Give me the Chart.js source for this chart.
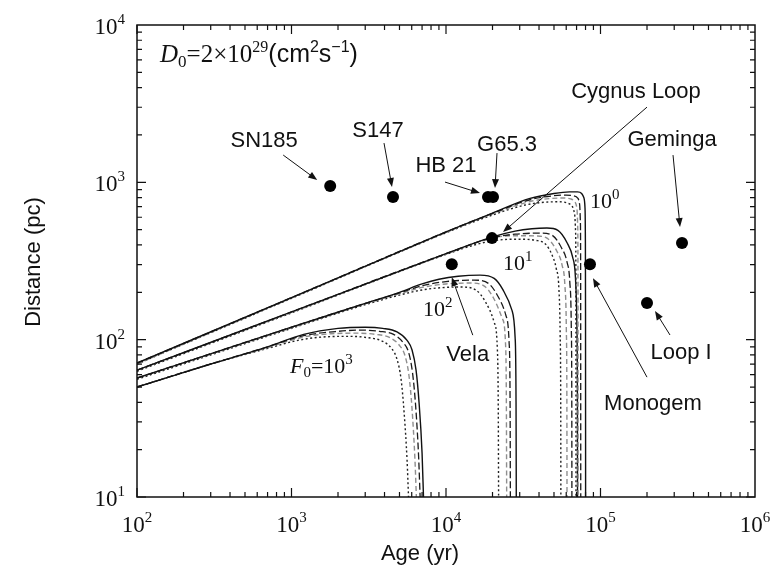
<!DOCTYPE html>
<html>
<head>
<meta charset="utf-8">
<script src="https://cdn.jsdelivr.net/npm/chart.js@4.4.1/dist/chart.umd.min.js"></script>
<style>
  html, body { margin: 0; padding: 0; background: #fff; }
  #wrap { width: 776px; height: 577px; position: relative; }
</style>
</head>
<body>
<div id="wrap"><canvas id="chart"></canvas></div>
<script>
// remnants (age in yr, distance in pc)
const snrNames = ["SN185", "S147", "HB 21", "G65.3", "Cygnus Loop", "Vela", "Monogem", "Geminga", "Loop I"];
const snrAge = [1780, 4540, 18700, 20150, 19850, 10900, 85500, 337000, 200000];
const snrDist = [947, 806, 806, 806, 442, 302, 302, 411, 171];

// F0 = 1
const f1SolidAge = [100, 1000, 10000, 20000, 35000, 50000, 63000, 71000, 75500, 78000, 79300, 79800, 80000, 80100];
const f1SolidDist = [71, 185, 484, 638, 790, 850, 870, 870, 850, 800, 700, 450, 150, 10];
const f1DashAge = [100, 1000, 10000, 20000, 35000, 50000, 60000, 67000, 71500, 73300, 74100, 74400, 74500];
const f1DashDist = [71, 185, 484, 635, 775, 822, 830, 822, 790, 720, 560, 250, 10];
const f1GrayAge = [100, 1000, 10000, 20000, 35000, 48000, 57000, 64000, 68500, 70400, 71200, 71500, 71600];
const f1GrayDist = [70, 184, 480, 630, 755, 790, 795, 785, 750, 680, 520, 230, 10];
const f1DotAge = [100, 1000, 10000, 20000, 32000, 44000, 54000, 61000, 65800, 68000, 69000, 69300, 69400];
const f1DotDist = [70, 183, 478, 620, 715, 748, 752, 738, 700, 630, 480, 210, 10];

// F0 = 10
const f10SolidAge = [100, 1000, 10000, 20000, 28000, 36000, 45000, 53000, 61000, 66000, 68800, 70300, 70900, 71000];
const f10SolidDist = [64, 150, 352, 450, 490, 507, 512, 495, 410, 335, 250, 130, 40, 10];
const f10DashAge = [100, 1000, 10000, 20000, 28000, 41400, 48800, 56100, 60700, 63300, 64700, 65200, 65300];
const f10DashDist = [64, 150, 352, 445, 468, 476, 460, 381, 312, 232, 121, 37, 10];
const f10GrayAge = [100, 1000, 10000, 20000, 28000, 38500, 45300, 52200, 56400, 58800, 60100, 60600, 60700];
const f10GrayDist = [64, 149, 350, 443, 458, 456, 440, 365, 298, 222, 116, 36, 10];
const f10DotAge = [100, 1000, 10000, 16000, 22000, 30000, 38000, 44000, 48600, 51800, 53800, 54800, 55300, 55400];
const f10DotDist = [63, 148, 348, 405, 430, 435, 428, 405, 345, 281, 210, 109, 34, 10];

// F0 = 100
const f100SolidAge = [100, 1000, 3000, 5000, 7000, 9000, 12000, 16600, 20500, 23400, 26700, 28000, 28400, 28500];
const f100SolidDist = [57, 120, 170, 200, 226, 242, 253, 257, 245, 207, 154, 104, 40, 10];
const f100DashAge = [100, 1000, 3000, 5000, 7000, 10000, 15200, 18800, 21400, 24400, 25600, 26000, 26100];
const f100DashDist = [57, 120, 170, 198, 220, 234, 239, 228, 193, 143, 97, 37, 10];
const f100GrayAge = [100, 1000, 3000, 5000, 7000, 10000, 14400, 17800, 20300, 23100, 24300, 24600, 24700];
const f100GrayDist = [57, 119, 169, 196, 215, 226, 229, 218, 184, 137, 93, 36, 10];
const f100DotAge = [100, 1000, 3000, 5000, 7000, 10000, 12700, 15700, 18000, 20500, 21500, 21800, 21900];
const f100DotDist = [56, 118, 167, 192, 207, 215, 216, 206, 174, 129, 87, 34, 10];

// F0 = 1000
const f1000SolidAge = [100, 300, 700, 1200, 2000, 3000, 3900, 4820, 5600, 6030, 6400, 6690, 7000, 7150];
const f1000SolidDist = [50, 70, 90, 108, 118, 120, 118, 112, 99, 86, 64, 40, 19, 10];
const f1000DashAge = [100, 300, 700, 1200, 2000, 2850, 3700, 4580, 5320, 5730, 6080, 6360, 6650, 6800];
const f1000DashDist = [50, 70, 90, 106, 113, 115, 113, 108, 95, 83, 61, 38, 18, 10];
const f1000GrayAge = [100, 300, 700, 1200, 1800, 2700, 3500, 4340, 5040, 5430, 5760, 6020, 6300, 6430];
const f1000GrayDist = [50, 70, 89, 104, 109, 110, 108, 103, 91, 79, 59, 37, 17, 10];
const f1000DotAge = [100, 300, 700, 1100, 1600, 2400, 3100, 3860, 4480, 4820, 5120, 5350, 5600, 5720];
const f1000DotDist = [50, 70, 88, 99, 104, 105, 103, 98, 87, 75, 56, 35, 17, 10];

const xTickExps = [2, 3, 4, 5, 6];
const yTickExps = [1, 2, 3, 4];

const SERIF = '"Liberation Serif", "Times New Roman", serif';
const SANS = '"Liberation Sans", Arial, sans-serif';

const lineStyles = {
  solid: { color: "#111", dash: [], width: 1.4 },
  dash: { color: "#1a1a1a", dash: [7, 3], width: 1.3 },
  gray: { color: "#8f8f8f", dash: [5, 3], width: 1.4 },
  dot: { color: "#222", dash: [2, 2.5], width: 1.4 },
};

const curves = [
  [f1SolidAge, f1SolidDist, "solid"], [f1DashAge, f1DashDist, "dash"],
  [f1GrayAge, f1GrayDist, "gray"], [f1DotAge, f1DotDist, "dot"],
  [f10SolidAge, f10SolidDist, "solid"], [f10DashAge, f10DashDist, "dash"],
  [f10GrayAge, f10GrayDist, "gray"], [f10DotAge, f10DotDist, "dot"],
  [f100SolidAge, f100SolidDist, "solid"], [f100DashAge, f100DashDist, "dash"],
  [f100GrayAge, f100GrayDist, "gray"], [f100DotAge, f100DotDist, "dot"],
  [f1000SolidAge, f1000SolidDist, "solid"], [f1000DashAge, f1000DashDist, "dash"],
  [f1000GrayAge, f1000GrayDist, "gray"], [f1000DotAge, f1000DotDist, "dot"],
];

// label text offset, arrow tail and tip, relative to each remnant dot (px)
const snrLabels = [
  { text: -66, ty: -45, tail: [-47, -31], tip: [-13, -6] },
  { text: -15, ty: -66, tail: [-9, -54], tip: [-1, -10] },
  { text: -42, ty: -31, tail: [-43, -15], tip: [-8, -4] },
  { text: 14, ty: -52, tail: [4, -44], tip: [2, -9] },
  { text: 144, ty: -146, tail: [155, -131], tip: [11, -6] },
  { text: 16, ty: 91, tail: [21, 71], tip: [0, 13] },
  { text: 63, ty: 140, tail: [57, 113], tip: [3, 14] },
  { text: -10, ty: -103, tail: [-9, -88], tip: [-2, -16] },
  { text: 34, ty: 50, tail: [23, 32], tip: [8, 8] },
];

// curve family labels, placed in data units (left edge, middle)
const famLabelAge = [85500, 23400, 7100];
const famLabelDist = [772, 311, 159];
const famLabelExp = [0, 1, 2];

function drawParts(ctx, parts, x, y, align) {
  let w = 0;
  parts.forEach(p => { ctx.font = p[1]; w += ctx.measureText(p[0]).width; });
  let cx = align === "center" ? x - w / 2 : align === "right" ? x - w : x;
  ctx.textAlign = "left";
  ctx.textBaseline = "alphabetic";
  parts.forEach(p => {
    ctx.font = p[1];
    ctx.fillText(p[0], cx, y + (p[2] || 0));
    cx += ctx.measureText(p[0]).width;
  });
}

function pow10(exp, size) {
  return [["10", size + "px " + SERIF, 0], [String(exp), Math.round(size * 0.66) + "px " + SERIF, -Math.round(size * 0.42)]];
}

function arrow(ctx, x1, y1, x2, y2) {
  const a = Math.atan2(y2 - y1, x2 - x1);
  ctx.beginPath();
  ctx.moveTo(x1, y1);
  ctx.lineTo(x2 - 6 * Math.cos(a), y2 - 6 * Math.sin(a));
  ctx.stroke();
  ctx.beginPath();
  ctx.moveTo(x2, y2);
  ctx.lineTo(x2 - 9 * Math.cos(a) + 3.5 * Math.sin(a), y2 - 9 * Math.sin(a) - 3.5 * Math.cos(a));
  ctx.lineTo(x2 - 9 * Math.cos(a) - 3.5 * Math.sin(a), y2 - 9 * Math.sin(a) + 3.5 * Math.cos(a));
  ctx.closePath();
  ctx.fill();
}

const decorPlugin = {
  id: "decor",
  afterDatasetsDraw(chart) {
    const ctx = chart.ctx;
    const a = chart.chartArea;
    const xs = chart.scales.x, ys = chart.scales.y;
    ctx.save();
    ctx.strokeStyle = "#111";
    ctx.fillStyle = "#111";

    // frame
    ctx.lineWidth = 1.5;
    ctx.setLineDash([]);
    ctx.strokeRect(a.left, a.top, a.right - a.left, a.bottom - a.top);

    // inward ticks on all sides
    ctx.lineWidth = 1.2;
    ctx.beginPath();
    for (let e = 2; e < 6; e++) {
      for (let k = 1; k <= 9; k++) {
        const px = xs.getPixelForValue(k * Math.pow(10, e));
        const len = k === 1 ? 9 : 5;
        ctx.moveTo(px, a.bottom); ctx.lineTo(px, a.bottom - len);
        ctx.moveTo(px, a.top); ctx.lineTo(px, a.top + len);
      }
    }
    for (let e = 1; e < 4; e++) {
      for (let k = 1; k <= 9; k++) {
        const py = ys.getPixelForValue(k * Math.pow(10, e));
        const len = k === 1 ? 9 : 5;
        ctx.moveTo(a.left, py); ctx.lineTo(a.left + len, py);
        ctx.moveTo(a.right, py); ctx.lineTo(a.right - len, py);
      }
    }
    ctx.stroke();

    // tick labels
    xTickExps.forEach(e => {
      drawParts(ctx, pow10(e, 23), xs.getPixelForValue(Math.pow(10, e)), a.bottom + 35, "center");
    });
    yTickExps.forEach(e => {
      drawParts(ctx, pow10(e, 23), a.left - 12, ys.getPixelForValue(Math.pow(10, e)) + 9, "right");
    });

    // axis titles
    ctx.font = "22px " + SANS;
    ctx.textAlign = "center";
    ctx.textBaseline = "alphabetic";
    ctx.fillText("Age (yr)", 420, 560);
    ctx.save();
    ctx.translate(40, 262);
    ctx.rotate(-Math.PI / 2);
    ctx.fillText("Distance (pc)", 0, 0);
    ctx.restore();

    // remnant labels and arrows
    ctx.lineWidth = 1;
    snrLabels.forEach((l, i) => {
      const px = xs.getPixelForValue(snrAge[i]);
      const py = ys.getPixelForValue(snrDist[i]);
      ctx.font = "22px " + SANS;
      ctx.textAlign = "center";
      ctx.textBaseline = "middle";
      ctx.fillText(snrNames[i], px + l.text, py + l.ty);
      arrow(ctx, px + l.tail[0], py + l.tail[1], px + l.tip[0], py + l.tip[1]);
    });

    // curve family labels
    famLabelExp.forEach((e, i) => {
      drawParts(ctx, pow10(e, 22), xs.getPixelForValue(famLabelAge[i]), ys.getPixelForValue(famLabelDist[i]) + 8, "left");
    });
    const fx = xs.getPixelForValue(978), fy = ys.getPixelForValue(69) + 8;
    drawParts(ctx, [
      ["F", "italic 22px " + SERIF, 0],
      ["0", "15px " + SERIF, 4],
      ["=", "22px " + SERIF, 0],
    ].concat(pow10(3, 22)), fx, fy, "left");

    const dx = xs.getPixelForValue(141), dy = ys.getPixelForValue(6640) + 9;
    drawParts(ctx, [
      ["D", "italic 25px " + SERIF, 0],
      ["0", "17px " + SERIF, 5],
      ["=2\u00d7", "25px " + SERIF, 0],
      ["10", "25px " + SERIF, 0],
      ["29", "16px " + SERIF, -10],
      ["(cm", "25px " + SANS, 0],
      ["2", "16px " + SANS, -10],
      ["s", "25px " + SANS, 0],
      ["\u22121", "16px " + SANS, -10],
      [")", "25px " + SANS, 0],
    ], dx, dy, "left");

    ctx.restore();
  },
};

const datasets = [{
  type: "scatter",
  data: snrAge.map((v, i) => ({ x: v, y: snrDist[i] })),
  pointRadius: 6,
  pointBackgroundColor: "#000",
  pointBorderWidth: 0,
  order: 0,
}];
curves.forEach(c => {
  const s = lineStyles[c[2]];
  datasets.push({
    type: "line",
    data: c[0].map((v, i) => ({ x: v, y: c[1][i] })),
    borderColor: s.color,
    borderDash: s.dash,
    borderWidth: s.width,
    pointRadius: 0,
    fill: false,
    cubicInterpolationMode: "monotone",
    order: 1,
  });
});

new Chart(document.getElementById("chart"), {
  data: { datasets },
  options: {
    responsive: true,
    maintainAspectRatio: false,
    animation: false,
    layout: { padding: { left: 137, right: 21, top: 25, bottom: 80 } },
    plugins: { legend: { display: false }, tooltip: { enabled: false } },
    scales: {
      x: { type: "logarithmic", min: 100, max: 1e6, display: false },
      y: { type: "logarithmic", min: 10, max: 1e4, display: false },
    },
  },
  plugins: [decorPlugin],
});
</script>
</body>
</html>
